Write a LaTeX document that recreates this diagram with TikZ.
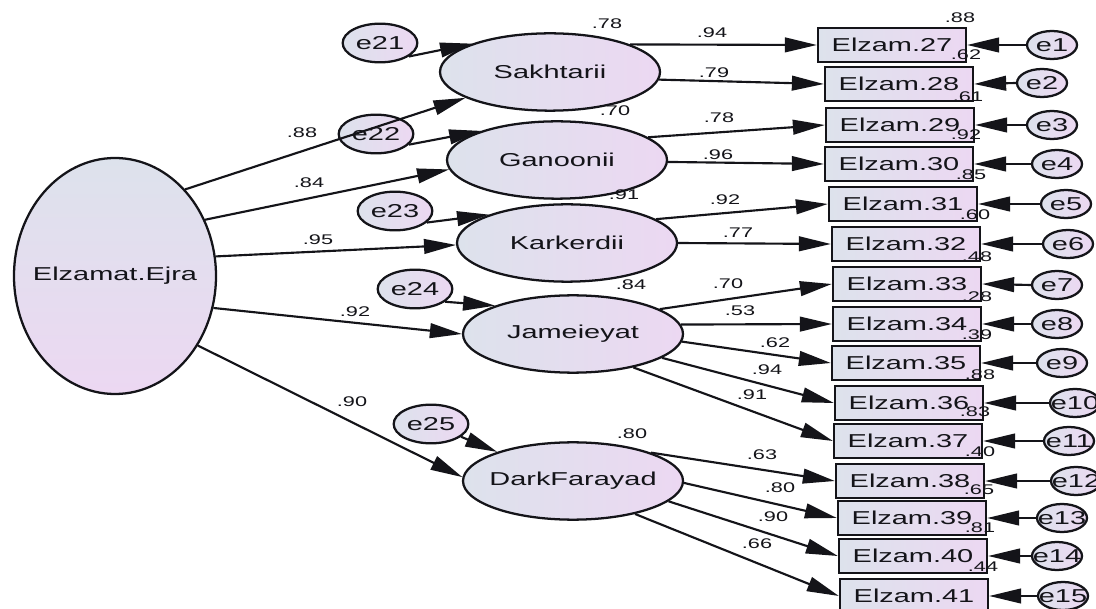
\documentclass[tikz,border=0pt]{standalone}
\usepackage{fontspec}
\setmainfont{Liberation Sans}[FakeStretch=1.55]
\usetikzlibrary{arrows.meta,shapes.geometric}
\definecolor{cA}{RGB}{221,226,236}
\definecolor{cB}{RGB}{236,216,242}
\definecolor{ink}{RGB}{20,20,25}
\newcommand{\zb}[1]{\makebox[0pt]{#1}}
\tikzset{
 base/.style={draw=ink, line width=1.7pt, inner sep=0pt, text=ink, font=\fontsize{14}{16}\selectfont},
 lat/.style={base, ellipse, left color=cA, right color=cB, minimum width=165pt, minimum height=58pt},
 big/.style={base, ellipse, top color=cA, bottom color=cB, minimum width=151.5pt, minimum height=177pt},
 err/.style={base, ellipse, left color=cA, right color=cB, minimum width=56pt, minimum height=29pt},
 serr/.style={base, ellipse, left color=cA, right color=cB, minimum width=37.5pt, minimum height=21pt},
 obs/.style={base, rectangle, left color=cA, right color=cB, minimum width=111pt, minimum height=25pt},
 arr/.style={draw=ink, line width=1.6pt, -{Triangle[length=24pt,width=11pt]}},
 num/.style={text=ink, inner sep=0pt, font=\fontsize{10.5}{12}\selectfont}
}
\begin{document}
\begin{tikzpicture}[x=0.75pt,y=-0.75pt]
\useasboundingbox[fill=white] (0,0) rectangle (1096,609);
% latent variables
\node[big] (F) at (115,276) {\zb{Elzamat.Ejra}};
\node[lat] (S) at (550,72) {\zb{Sakhtarii}};
\node[lat] (G) at (557,160) {\zb{Ganoonii}};
\node[lat] (K) at (567,243) {\zb{Karkerdii}};
\node[lat] (J) at (573,334) {\zb{Jameieyat}};
\node[lat] (D) at (573,481) {\zb{DarkFarayad}};
% disturbances
\node[err] (e21) at (380,43) {\zb{e21}};
\node[err] (e22) at (376,134) {\zb{e22}};
\node[err] (e23) at (395,211) {\zb{e23}};
\node[err] (e24) at (415,289) {\zb{e24}};
\node[err] (e25) at (431,424) {\zb{e25}};
% observed
\node[obs] (b27) at (892,45) {\zb{Elzam.27}};
\node[obs] (b28) at (899,84) {\zb{Elzam.28}};
\node[obs] (b29) at (900,125) {\zb{Elzam.29}};
\node[obs] (b30) at (899,164) {\zb{Elzam.30}};
\node[obs] (b31) at (903,204) {\zb{Elzam.31}};
\node[obs] (b32) at (906,244) {\zb{Elzam.32}};
\node[obs] (b33) at (907,284) {\zb{Elzam.33}};
\node[obs] (b34) at (907,324) {\zb{Elzam.34}};
\node[obs] (b35) at (906,363) {\zb{Elzam.35}};
\node[obs] (b36) at (909,403) {\zb{Elzam.36}};
\node[obs] (b37) at (908,441) {\zb{Elzam.37}};
\node[obs] (b38) at (910,481) {\zb{Elzam.38}};
\node[obs] (b39) at (912,518) {\zb{Elzam.39}};
\node[obs] (b40) at (913,556) {\zb{Elzam.40}};
\node[obs] (b41) at (914,596) {\zb{Elzam.41}};
% errors
\node[serr] (e1) at (1052,45) {\zb{e1}};
\node[serr] (e2) at (1042,83) {\zb{e2}};
\node[serr] (e3) at (1052,125) {\zb{e3}};
\node[serr] (e4) at (1057,164) {\zb{e4}};
\node[serr] (e5) at (1066,204) {\zb{e5}};
\node[serr] (e6) at (1068,244) {\zb{e6}};
\node[serr] (e7) at (1057,285) {\zb{e7}};
\node[serr] (e8) at (1057,324) {\zb{e8}};
\node[serr] (e9) at (1062,363) {\zb{e9}};
\node[serr] (e10) at (1075,403) {\zb{e10}};
\node[serr] (e11) at (1069,441) {\zb{e11}};
\node[serr] (e12) at (1076,481) {\zb{e12}};
\node[serr] (e13) at (1062,518) {\zb{e13}};
\node[serr] (e14) at (1057,556) {\zb{e14}};
\node[serr] (e15) at (1063,596) {\zb{e15}};
% structural paths
\draw[arr] (F.51.5) -- (S.197);
\draw[arr] (F.32.8) -- (G.185.4);
\draw[arr] (F.11.7) -- (K.181.6);
\draw[arr] (F.-18.4) -- (J.180);
\draw[arr] (F.-40.9) -- (D.178);
\draw[arr] (e21.-25) -- (S.160.7);
\draw[arr] (e22.-18) -- (G.159);
\draw[arr] (e23.-20.6) -- (K.160);
\draw[arr] (e24.-23.6) -- (J.160.4);
\draw[arr] (e25.-23) -- (D.159.8);
% loadings
\draw[arr] (S.19) -- (b27.west);
\draw[arr] (S.-4) -- (b28.west);
\draw[arr] (G.14.6) -- (b29.west);
\draw[arr] (G.-1.5) -- (b30.west);
\draw[arr] (K.15.4) -- (b31.west);
\draw[arr] (K.0) -- (b32.west);
\draw[arr] (J.16.9) -- (b33.west);
\draw[arr] (J.5) -- (b34.west);
\draw[arr] (J.-4) -- (b35.west);
\draw[arr] (J.-15) -- (b36.west);
\draw[arr] (J.-29) -- (b37.west);
\draw[arr] (D.20) -- (b38.west);
\draw[arr] (D.-1) -- (b39.west);
\draw[arr] (D.-12.5) -- (b40.west);
\draw[arr] (D.-28.7) -- (b41.west);
% measurement errors
\foreach \e/\b in {e1/b27,e2/b28,e3/b29,e4/b30,e5/b31,e6/b32,e7/b33,e8/b34,e9/b35,e10/b36,e11/b37,e12/b38,e13/b39,e14/b40,e15/b41}
  \draw[arr] (\e.west) -- (\b.east);
% structural coefficients
\node[num] (p1) at (302,133) {.88};
\node[num] (p2) at (309,183) {.84};
\node[num] (p3) at (318,240) {.95};
\node[num] (p4) at (355,312) {.92};
\node[num] (p5) at (352,402) {.90};
% R2 of latent
\node[num] (r1) at (607,24) {.78};
\node[num] (r2) at (615,111) {.70};
\node[num] (r3) at (624,195) {.91};
\node[num] (r4) at (631,285) {.84};
\node[num] (r5) at (632,434) {.80};
% loadings labels
\node[num] (l27) at (712,33) {.94};
\node[num] (l28) at (714,73) {.79};
\node[num] (l29) at (719,118) {.78};
\node[num] (l30) at (718,155) {.96};
\node[num] (l31) at (725,200) {.92};
\node[num] (l32) at (738,233) {.77};
\node[num] (l33) at (728,284) {.70};
\node[num] (l34) at (740,311) {.53};
\node[num] (l35) at (775,343) {.62};
\node[num] (l36) at (767,370) {.94};
\node[num] (l37) at (752,395) {.91};
\node[num] (l38) at (762,455) {.63};
\node[num] (l39) at (780,488) {.80};
\node[num] (l40) at (773,517) {.90};
\node[num] (l41) at (757,544) {.66};
% R2 of observed
\node[num] (q27) at (960,18) {.88};
\node[num] (q28) at (966,55) {.62};
\node[num] (q29) at (968,97) {.61};
\node[num] (q30) at (966,135) {.92};
\node[num] (q31) at (971,175) {.85};
\node[num] (q32) at (975,215) {.60};
\node[num] (q33) at (977,257) {.48};
\node[num] (q34) at (977,297) {.28};
\node[num] (q35) at (977,335) {.39};
\node[num] (q36) at (980,375) {.88};
\node[num] (q37) at (975,412) {.83};
\node[num] (q38) at (980,452) {.40};
\node[num] (q39) at (979,490) {.65};
\node[num] (q40) at (980,528) {.81};
\node[num] (q41) at (983,567) {.44};
\end{tikzpicture}
\end{document}
